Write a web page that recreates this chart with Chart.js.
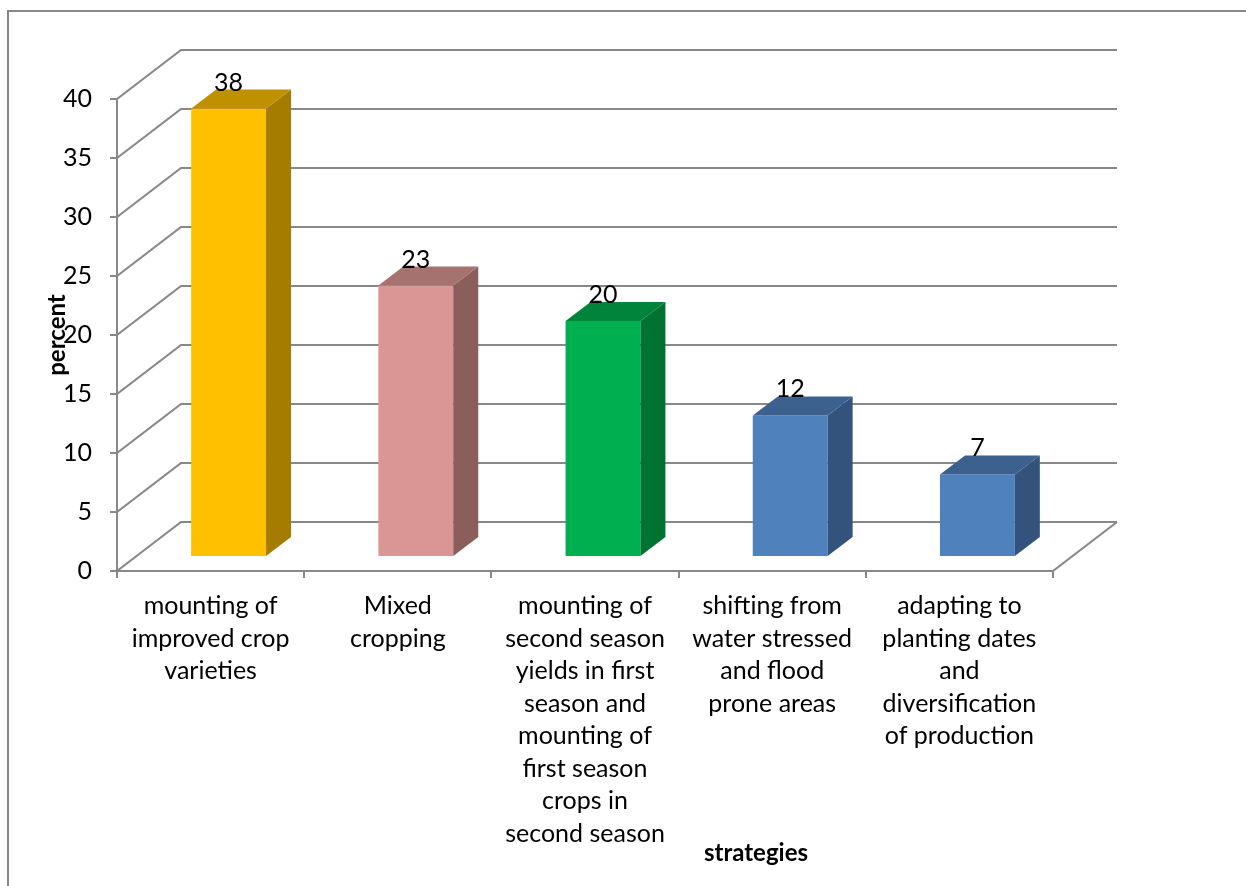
<!DOCTYPE html>
<html>
<head>
<meta charset="utf-8">
<title>Adaptation strategies</title>
<script src="https://cdn.jsdelivr.net/npm/chart.js@4/dist/chart.umd.min.js"></script>
<style>
  html, body { margin: 0; padding: 0; background: #fff; }
  canvas { display: block; }
</style>
</head>
<body>
<canvas id="strategyChart" width="1246" height="886"></canvas>
<script>
// categories, wrapped the way they are printed under the axis
const strategies = [
  ["mounting of", "improved crop", "varieties"],
  ["Mixed", "cropping"],
  ["mounting of", "second season", "yields in first", "season and", "mounting of", "first season", "crops in", "second season"],
  ["shifting from", "water stressed", "and flood", "prone areas"],
  ["adapting to", "planting dates", "and", "diversification", "of production"]
];
const percents = [38, 23, 20, 12, 7];
const yTicks = [0, 5, 10, 15, 20, 25, 30, 35, 40];

// front / top / side shades for each bar
const frontColors = ["#FFC000", "#D99694", "#00B050", "#4F81BD", "#4F81BD"];
const topColors = ["#BF9000", "#A6726F", "#00843C", "#3C618F", "#3C618F"];
const sideColors = ["#A57C00", "#8B5E5C", "#007232", "#33537C", "#33537C"];

const FONT = "Lato, 'Open Sans', sans-serif";
const GRID = "#888888";

// wall depth and where the bars sit inside it
const WALL_DX = 64, WALL_DY = 49;
const BAR_SHIFT_X = 18, BAR_SHIFT_Y = 14;
const BAR_DX = 25, BAR_DY = 19;

const border = {
  id: "border",
  beforeDraw(chart) {
    const ctx = chart.ctx;
    ctx.save();
    ctx.strokeStyle = "#878787";
    ctx.lineWidth = 2;
    ctx.strokeRect(8, 11, 1400, 1000);
    ctx.restore();
  }
};

const walls = {
  id: "walls",
  beforeDatasetsDraw(chart) {
    const ctx = chart.ctx;
    const y = chart.scales.y;
    const a = chart.chartArea;
    ctx.save();
    ctx.strokeStyle = GRID;
    ctx.lineWidth = 2.2;
    yTicks.forEach(v => {
      const py = y.getPixelForValue(v);
      ctx.beginPath();
      ctx.moveTo(a.left, py);
      ctx.lineTo(a.left + WALL_DX, py - WALL_DY);
      ctx.lineTo(a.right + WALL_DX, py - WALL_DY);
      ctx.stroke();
    });
    // right edge of the floor
    const base = y.getPixelForValue(0);
    ctx.beginPath();
    ctx.moveTo(a.right, base);
    ctx.lineTo(a.right + WALL_DX, base - WALL_DY);
    ctx.stroke();
    ctx.restore();

    // push the bar fronts back into the box
    ctx.save();
    ctx.translate(BAR_SHIFT_X, -BAR_SHIFT_Y);
  },
  afterDatasetsDraw(chart) {
    const ctx = chart.ctx;
    ctx.restore();
    const meta = chart.getDatasetMeta(0);
    ctx.save();
    meta.data.forEach((bar, i) => {
      const l = bar.x - bar.width / 2 + BAR_SHIFT_X;
      const r = bar.x + bar.width / 2 + BAR_SHIFT_X;
      const t = bar.y - BAR_SHIFT_Y;
      const b = bar.base - BAR_SHIFT_Y;
      ctx.fillStyle = sideColors[i];
      ctx.beginPath();
      ctx.moveTo(r, t);
      ctx.lineTo(r + BAR_DX, t - BAR_DY);
      ctx.lineTo(r + BAR_DX, b - BAR_DY);
      ctx.lineTo(r, b);
      ctx.closePath();
      ctx.fill();
      ctx.fillStyle = topColors[i];
      ctx.beginPath();
      ctx.moveTo(l, t);
      ctx.lineTo(l + BAR_DX, t - BAR_DY);
      ctx.lineTo(r + BAR_DX, t - BAR_DY);
      ctx.lineTo(r, t);
      ctx.closePath();
      ctx.fill();

      ctx.fillStyle = "#000";
      ctx.font = "25px " + FONT;
      ctx.textAlign = "center";
      ctx.textBaseline = "alphabetic";
      ctx.fillText(String(percents[i]), bar.x + BAR_SHIFT_X, t - BAR_DY + 1);
    });

    // axis titles
    ctx.fillStyle = "#000";
    ctx.font = "bold 24px " + FONT;
    ctx.textAlign = "center";
    ctx.textBaseline = "middle";
    ctx.fillText("strategies", 756, 853);
    ctx.translate(57, 335);
    ctx.rotate(-Math.PI / 2);
    ctx.fillText("percent", 0, 0);
    ctx.restore();
  }
};

new Chart(document.getElementById("strategyChart"), {
  type: "bar",
  data: {
    labels: strategies,
    datasets: [{
      data: percents,
      backgroundColor: frontColors,
      borderWidth: 0,
      categoryPercentage: 0.4,
      barPercentage: 1
    }]
  },
  options: {
    responsive: false,
    animation: false,
    layout: { padding: { top: 99, right: 193, left: 0, bottom: 0 } },
    plugins: {
      legend: { display: false },
      tooltip: { enabled: false }
    },
    scales: {
      x: {
        afterFit(scale) { scale.height = 315; },
        grid: { drawOnChartArea: false, tickLength: 7, color: GRID, lineWidth: 2 },
        border: { color: GRID, width: 2 },
        ticks: {
          color: "#000",
          padding: 12,
          maxRotation: 0,
          autoSkip: false,
          font: { family: FONT, size: 25, lineHeight: 1.3 }
        }
      },
      y: {
        min: 0,
        max: 40,
        afterFit(scale) { scale.width = 117; },
        grid: { drawOnChartArea: false, tickLength: 7, color: GRID, lineWidth: 2 },
        border: { color: GRID, width: 2 },
        ticks: {
          stepSize: 5,
          color: "#000",
          padding: 18,
          font: { family: FONT, size: 25 }
        }
      }
    }
  },
  plugins: [border, walls]
});
</script>
</body>
</html>
